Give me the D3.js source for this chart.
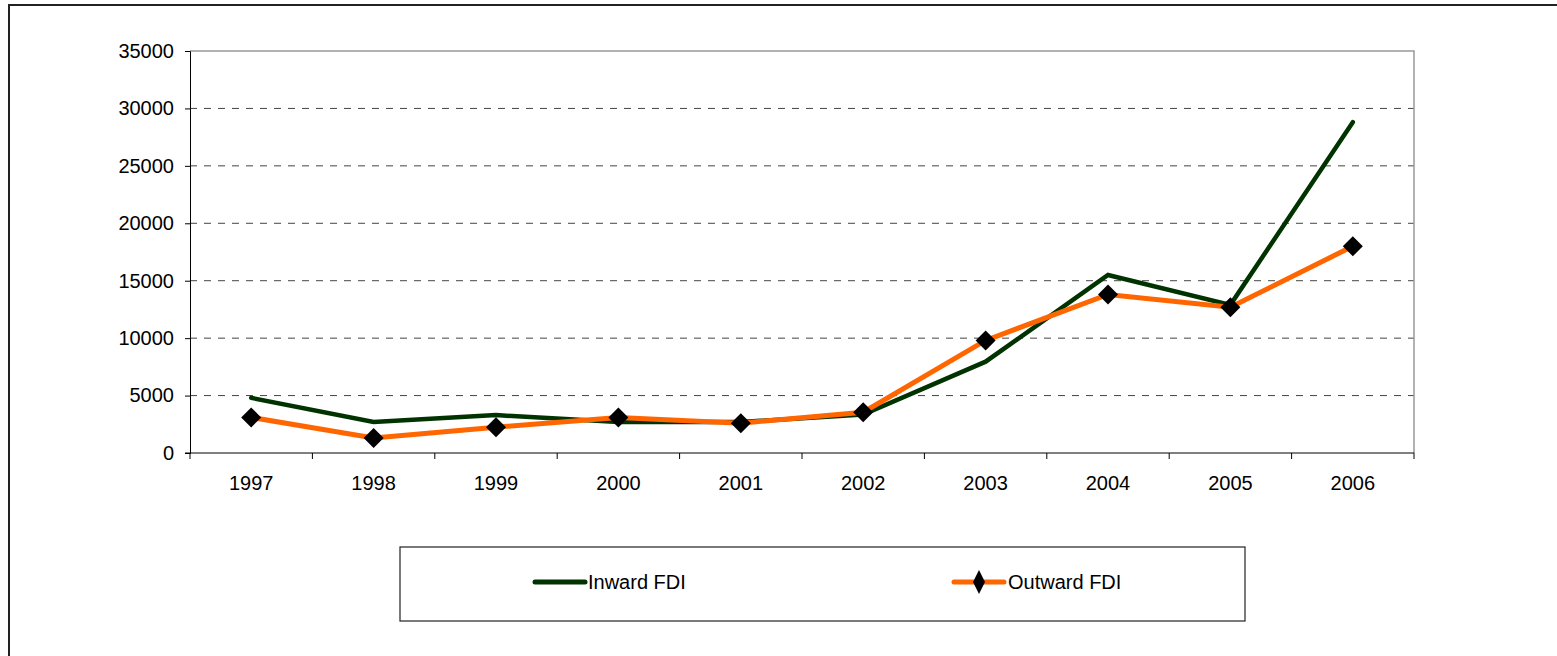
<!DOCTYPE html>
<html>
<head>
<meta charset="utf-8">
<script src="https://cdn.jsdelivr.net/npm/d3@7"></script>
<style>
body { margin:0; background:#fff; }
svg text { font-family: "Liberation Sans", Arial, sans-serif; fill:#000; }
</style>
</head>
<body>
<svg id="chart" width="1557" height="656"></svg>
<script>
// values
var years = ["1997","1998","1999","2000","2001","2002","2003","2004","2005","2006"];
var inward = [4800, 2700, 3300, 2700, 2700, 3350, 7950, 15500, 12900, 28800];
var outward = [3100, 1300, 2250, 3100, 2600, 3550, 9800, 13800, 12700, 18000];
var yTicks = [0, 5000, 10000, 15000, 20000, 25000, 30000, 35000];
var seriesNames = ["Inward FDI", "Outward FDI"];

var svg = d3.select("#chart");

// outer chart frame (runs off right/bottom edge)
svg.append("rect")
	.attr("x", 9).attr("y", 5)
	.attr("width", 1600).attr("height", 700)
	.attr("fill", "none").attr("stroke", "#222").attr("stroke-width", 2);

var plotL = 190, plotR = 1414, plotT = 51, plotB = 453;

var x = d3.scaleBand().domain(years).range([plotL, plotR]).padding(0);
var y = d3.scaleLinear().domain([0, 35000]).range([plotB, plotT]);

// gridlines
svg.append("g").selectAll("line")
	.data(yTicks.filter(function(d) { return d > 0 && d < 35000; }))
	.enter().append("line")
	.attr("x1", plotL).attr("x2", plotR)
	.attr("y1", function(d) { return y(d); })
	.attr("y2", function(d) { return y(d); })
	.attr("stroke", "#444").attr("stroke-width", 1)
	.attr("stroke-dasharray", "7,7");

// plot area top / right border
svg.append("path")
	.attr("d", "M" + plotL + "," + y(35000) + "H" + plotR + "V" + plotB)
	.attr("fill", "none").attr("stroke", "#999").attr("stroke-width", 1.5);

// y axis
var yAxis = d3.axisLeft(y).tickValues(yTicks).tickSize(5).tickPadding(11).tickFormat(d3.format("d"));
var gy = svg.append("g").attr("transform", "translate(" + plotL + ",0)").call(yAxis);
gy.select(".domain").attr("stroke", "#000");
gy.selectAll(".tick line").attr("stroke", "#000");
gy.selectAll("text").style("font-size", "20px").attr("fill", "#000");

// x axis: ticks between categories
var gx = svg.append("g").attr("transform", "translate(0," + plotB + ")");
gx.append("line").attr("x1", plotL - 5).attr("x2", plotR).attr("stroke", "#000");
var edges = years.map(function(d) { return x(d); }).concat([plotR]);
gx.selectAll(".edge").data(edges).enter().append("line")
	.attr("class", "edge")
	.attr("x1", function(d) { return d; }).attr("x2", function(d) { return d; })
	.attr("y1", 0).attr("y2", 6).attr("stroke", "#000");
gx.selectAll("text").data(years).enter().append("text")
	.attr("x", function(d) { return x(d) + x.bandwidth() / 2; })
	.attr("y", 37)
	.attr("text-anchor", "middle")
	.style("font-size", "20px")
	.text(function(d) { return d; });

var line = d3.line()
	.x(function(d, i) { return x(years[i]) + x.bandwidth() / 2; })
	.y(function(d) { return y(d); });

svg.append("path").datum(inward)
	.attr("d", line)
	.attr("fill", "none").attr("stroke", "#003300").attr("stroke-width", 4.5)
	.attr("stroke-linecap", "round");

svg.append("path").datum(outward)
	.attr("d", line)
	.attr("fill", "none").attr("stroke", "#ff6600").attr("stroke-width", 5);

var diamond = d3.symbol().type(d3.symbolSquare).size(200);
svg.append("g").selectAll("path").data(outward).enter().append("path")
	.attr("d", diamond)
	.attr("transform", function(d, i) {
		return "translate(" + (x(years[i]) + x.bandwidth() / 2) + "," + y(d) + ") rotate(45)";
	})
	.attr("fill", "#000");

// legend
var lg = svg.append("g");
lg.append("rect")
	.attr("x", 400).attr("y", 547).attr("width", 845).attr("height", 74)
	.attr("fill", "#fff").attr("stroke", "#222").attr("stroke-width", 1.2);

lg.append("line").attr("x1", 535).attr("x2", 585).attr("y1", 582).attr("y2", 582)
	.attr("stroke", "#003300").attr("stroke-width", 5).attr("stroke-linecap", "round");
lg.append("text").attr("x", 588).attr("y", 589).style("font-size", "20px").text(seriesNames[0]);

lg.append("line").attr("x1", 954).attr("x2", 1004).attr("y1", 582).attr("y2", 582)
	.attr("stroke", "#ff6600").attr("stroke-width", 5).attr("stroke-linecap", "round");
lg.append("path").attr("d", "M979,570L985,582L979,594L973,582Z").attr("fill", "#000");
lg.append("text").attr("x", 1008).attr("y", 589).style("font-size", "20px").text(seriesNames[1]);
</script>
</body>
</html>
